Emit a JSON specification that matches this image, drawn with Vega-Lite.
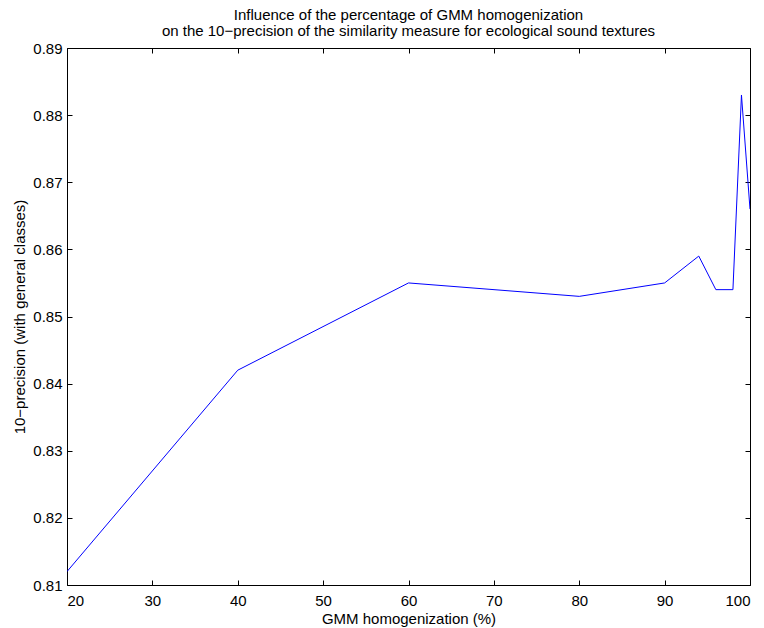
{
  "$schema": "https://vega.github.io/schema/vega-lite/v6.json",
  "width": 683,
  "height": 537,
  "autosize": {"type": "none"},
  "padding": {"left": 67, "top": 48, "right": 14, "bottom": 43},
  "background": "white",
  "config": {
    "view": {"stroke": null},
    "font": "Liberation Sans",
    "axis": {
      "grid": false,
      "domainColor": "black",
      "domainWidth": 1,
      "tickColor": "black",
      "tickSize": -5,
      "labelColor": "black",
      "labelFont": "Liberation Sans",
      "labelFontSize": 15,
      "titleFont": "Liberation Sans",
      "titleFontSize": 15,
      "titleFontWeight": "normal",
      "titleColor": "black"
    }
  },
  "title": {
    "text": ["Influence of the percentage of GMM homogenization", "on the 10−precision of the similarity measure for ecological sound textures"],
    "font": "Liberation Sans",
    "fontSize": 15,
    "fontWeight": "normal",
    "color": "black",
    "anchor": "middle",
    "lineHeight": 16,
    "offset": 2
  },
  "data": {
    "values": [
      {"h": 20, "p": 0.812},
      {"h": 40, "p": 0.842},
      {"h": 60, "p": 0.855},
      {"h": 80, "p": 0.853},
      {"h": 90, "p": 0.855},
      {"h": 94, "p": 0.859},
      {"h": 96, "p": 0.854},
      {"h": 98, "p": 0.854},
      {"h": 99, "p": 0.883},
      {"h": 100, "p": 0.866}
    ]
  },
  "layer": [
    {
      "mark": {"type": "line", "color": "#0000ff", "strokeWidth": 1, "clip": true},
      "encoding": {
        "x": {"field": "h", "type": "quantitative", "scale": {"domain": [20, 100], "nice": false, "zero": false},
          "axis": {"orient": "bottom", "title": "GMM homogenization (%)", "values": [20,30,40,50,60,70,80,90,100], "labelPadding": 13, "titlePadding": 3}},
        "y": {"field": "p", "type": "quantitative", "scale": {"domain": [0.81, 0.89], "nice": false, "zero": false},
          "axis": {"orient": "left", "title": "10−precision (with general classes)", "values": [0.81,0.82,0.83,0.84,0.85,0.86,0.87,0.88,0.89], "format": ".2f", "labelPadding": 10, "titlePadding": 5}}
      }
    },
    {
      "mark": {"type": "line", "opacity": 0},
      "encoding": {
        "x": {"field": "h", "type": "quantitative", "scale": {"domain": [20, 100], "nice": false, "zero": false},
          "axis": {"orient": "top", "title": null, "labels": false, "values": [20,30,40,50,60,70,80,90,100]}},
        "y": {"field": "p", "type": "quantitative", "scale": {"domain": [0.81, 0.89], "nice": false, "zero": false},
          "axis": {"orient": "right", "title": null, "labels": false, "values": [0.81,0.82,0.83,0.84,0.85,0.86,0.87,0.88,0.89]}}
      }
    }
  ],
  "resolve": {"axis": {"x": "independent", "y": "independent"}}
}
